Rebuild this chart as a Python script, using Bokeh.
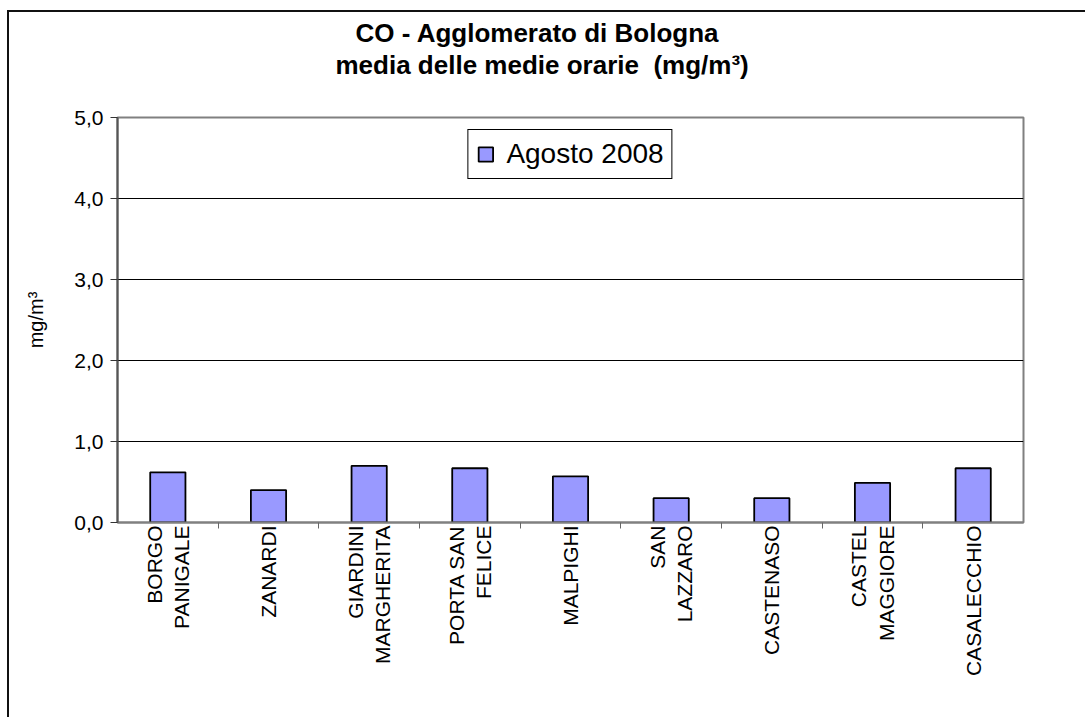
import math
from bokeh.plotting import figure
from bokeh.models import (Range1d, FactorRange, CategoricalAxis, FixedTicker, CustomJSTickFormatter,
                          Title, Legend, LegendItem, ColumnDataSource)
from bokeh.embed import file_html
from bokeh.resources import INLINE

stations = ["BORGO\nPANIGALE", "ZANARDI", "GIARDINI\nMARGHERITA", "PORTA SAN\nFELICE", "MALPIGHI",
            "SAN\nLAZZARO", "CASTENASO", "CASTEL\nMAGGIORE", "CASALECCHIO"]
agosto_2008 = [0.62, 0.40, 0.70, 0.67, 0.57, 0.30, 0.30, 0.49, 0.67]
y_ticks = [0, 1, 2, 3, 4, 5]
series_name = "Agosto 2008"
title_1 = "CO - Agglomerato di Bologna"
title_2 = "media delle medie orarie \u00a0(mg/m³)"

FONT = "Liberation Sans"

p = figure(frame_width=906, frame_height=405, x_range=FactorRange(factors=stations),
           y_range=Range1d(0, 5),
           output_backend="svg", toolbar_location=None, x_axis_location=None,
           min_border_left=108, min_border_right=62, min_border_top=105, min_border_bottom=195)
p.styles = {"border-top": "2px solid #111", "border-left": "2px solid #111",
            "margin-left": "7px", "margin-top": "10px"}
p.background_fill_color = "white"
p.border_fill_color = "white"
p.outline_line_color = "#808080"
p.outline_line_width = 2
p.xgrid.visible = False

src = ColumnDataSource(dict(x=stations, y=agosto_2008))
bars = p.vbar(x="x", top="y", width=0.35, source=src, fill_color="#9999FF",
              line_color="black", line_width=1.8)

# y axis
ya = p.yaxis[0]
ya.ticker = FixedTicker(ticks=y_ticks)
ya.formatter = CustomJSTickFormatter(code="return tick.toFixed(1).replace('.', ',')")
ya.major_label_text_font = FONT
ya.major_label_text_font_size = "21px"
ya.major_label_text_color = "black"
ya.major_tick_out = 7
ya.major_tick_in = 0
ya.minor_tick_line_color = None
ya.axis_line_color = "#555555"
ya.axis_line_width = 2
ya.major_tick_line_color = "#333333"
ya.major_label_standoff = 7
ya.axis_label = "mg/m³"
ya.axis_label_text_font = FONT
ya.axis_label_text_font_size = "20px"
ya.axis_label_text_font_style = "normal"
ya.axis_label_text_color = "black"
ya.axis_label_standoff = 24

p.ygrid.ticker = FixedTicker(ticks=y_ticks[1:-1])
p.ygrid.grid_line_color = "black"
p.ygrid.grid_line_width = 1

# boundary ticks axis: one factor per category edge, centred on the edges
edges = ["e%d" % i for i in range(len(stations) + 1)]
p.extra_x_ranges = {"edges": FactorRange(factors=edges, range_padding=-0.5,
                                         range_padding_units="absolute")}
ea = CategoricalAxis(x_range_name="edges")
ea.major_label_text_font_size = "0px"
ea.major_label_standoff = 0
ea.axis_label_standoff = 0
ea.major_tick_out = 6
ea.major_tick_in = 0
ea.axis_line_color = "#808080"
ea.axis_line_width = 2
ea.major_tick_line_color = "#666666"
p.add_layout(ea, "below")

ca = CategoricalAxis()
ca.axis_line_color = None
ca.major_tick_line_color = None
ca.major_tick_out = 0
ca.major_label_orientation = math.pi / 2
ca.major_label_text_font = FONT
ca.major_label_text_font_size = "21px"
ca.major_label_text_color = "black"
ca.major_label_standoff = -3
ca.axis_label_standoff = 0
p.add_layout(ca, "below")

legend = Legend(items=[LegendItem(label=series_name, renderers=[bars])], location="top_center")
legend.label_text_font = FONT
legend.label_text_font_size = "28px"
legend.label_text_color = "black"
legend.glyph_width = 18
legend.glyph_height = 18
legend.label_standoff = 12
legend.padding = 8
legend.margin = 12
legend.border_line_color = "black"
legend.border_line_width = 1
legend.border_line_alpha = 1
legend.background_fill_color = "white"
legend.background_fill_alpha = 1
p.add_layout(legend, "center")

# titles (spacer closest to the frame, then line 2, then line 1)
spacer = Title(text=" ", text_font_size="1px", standoff=35)
t2 = Title(text=title_2, align="left", text_font=FONT, text_color="black",
           text_font_size="26px", text_font_style="bold", standoff=0, offset=218)
t1 = Title(text=title_1, align="left", text_font=FONT, text_color="black",
           text_font_size="26px", text_font_style="bold", standoff=0, offset=238)
p.add_layout(spacer, "above")
p.add_layout(t2, "above")
p.add_layout(t1, "above")

open("out.html", "w").write(file_html(p, INLINE))
